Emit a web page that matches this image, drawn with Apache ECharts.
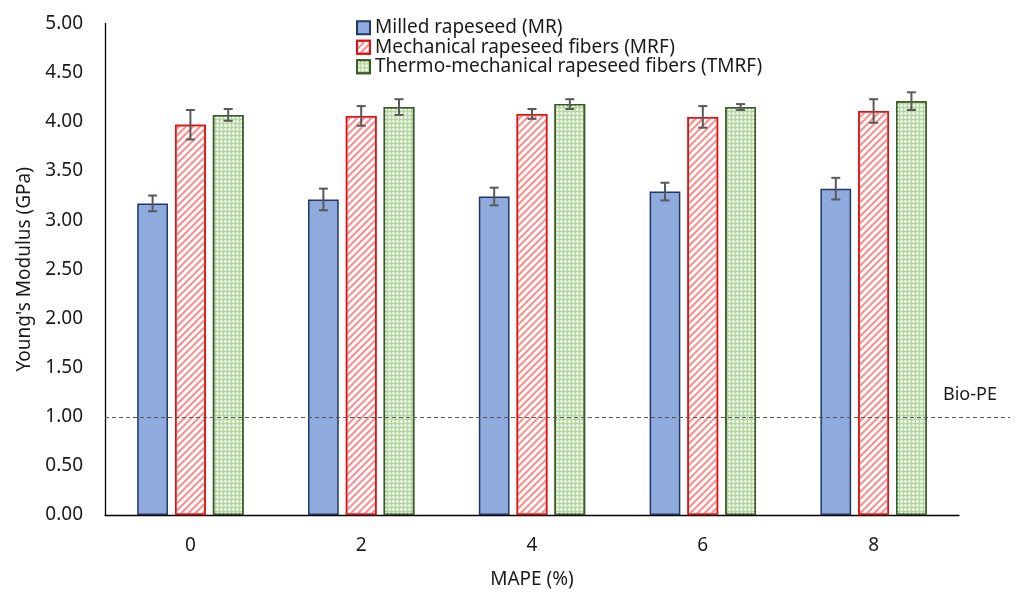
<!DOCTYPE html>
<html>
<head>
<meta charset="utf-8">
<script src="https://cdn.jsdelivr.net/npm/echarts@6/dist/echarts.min.js"></script>
<style>
  html, body { margin: 0; padding: 0; background: #fff; }
  #chart { width: 1016px; height: 594px; }
</style>
</head>
<body>
<div id="chart"></div>
<script>
var categories = ['0', '2', '4', '6', '8'];
var seriesNames = ['Milled rapeseed (MR)', 'Mechanical rapeseed fibers (MRF)', 'Thermo-mechanical rapeseed fibers (TMRF)'];
var mr = [3.17, 3.21, 3.24, 3.29, 3.32];
var mrErr = [0.08, 0.11, 0.09, 0.09, 0.11];
var mrf = [3.97, 4.06, 4.08, 4.05, 4.11];
var mrfErr = [0.15, 0.10, 0.05, 0.11, 0.12];
var tmrf = [4.07, 4.15, 4.18, 4.15, 4.21];
var tmrfErr = [0.06, 0.08, 0.05, 0.03, 0.09];
var bioPE = 1.0;
var yTicks = [0, 5, 0.5];

var font = '"Noto Sans", sans-serif';
var textColor = '#1a1a1a';
var barRatio = 0.18;
var gapRatio = 0.23;

// error bars sit over bar k of each group
function errorSeries(k, values, errs) {
  return {
    type: 'custom',
    z: 10,
    silent: true,
    data: values.map(function (v, i) { return [i, v, errs[i]]; }),
    renderItem: function (params, api) {
      var i = api.value(0), v = api.value(1), e = api.value(2);
      var band = api.size([1, 0])[0];
      var bw = band * barRatio;
      var off = (k - 1) * bw * (1 + gapRatio);
      var top = api.coord([i, v + e]);
      var bot = api.coord([i, v - e]);
      var x = top[0] + off;
      var cap = 4.5;
      var st = { stroke: '#595959', lineWidth: 2, fill: null };
      return {
        type: 'group',
        children: [
          { type: 'line', shape: { x1: x, y1: top[1], x2: x, y2: bot[1] }, style: st },
          { type: 'line', shape: { x1: x - cap, y1: top[1], x2: x + cap, y2: top[1] }, style: st },
          { type: 'line', shape: { x1: x - cap, y1: bot[1], x2: x + cap, y2: bot[1] }, style: st }
        ]
      };
    }
  };
}

var chart = echarts.init(document.getElementById('chart'));
chart.setOption({
  animation: false,
  textStyle: { fontFamily: font },
  legend: {
    data: seriesNames,
    orient: 'vertical',
    left: 351,
    top: 13,
    icon: 'rect',
    itemWidth: 13,
    itemHeight: 13,
    itemGap: 0,
    textStyle: { fontSize: 19, color: textColor, lineHeight: 19.5, fontFamily: font }
  },
  grid: [
    { left: 105, right: 57, top: 23.5, bottom: 78 },
    { left: 105, right: 6, top: 23.5, bottom: 78 }
  ],
  xAxis: [
    {
      type: 'category',
      gridIndex: 0,
      data: categories,
      name: 'MAPE (%)',
      nameLocation: 'middle',
      nameGap: 55,
      nameTextStyle: { fontSize: 19, color: textColor },
      axisLine: { lineStyle: { color: '#000', width: 1.3 } },
      axisTick: { show: false },
      axisLabel: { fontSize: 19, color: textColor, margin: 21 }
    },
    { type: 'value', gridIndex: 1, min: 0, max: 1, show: false }
  ],
  yAxis: [
    {
      type: 'value',
      gridIndex: 0,
      min: yTicks[0],
      max: yTicks[1],
      interval: yTicks[2],
      name: "Young's Modulus (GPa)",
      nameLocation: 'middle',
      nameGap: 68,
      nameTextStyle: { fontSize: 19, color: textColor },
      axisLine: { show: true, lineStyle: { color: '#000', width: 1.3 } },
      axisTick: { show: false },
      splitLine: { show: false },
      axisLabel: {
        fontSize: 19, color: textColor, margin: 22,
        formatter: function (v) { return v.toFixed(2); }
      }
    },
    { type: 'value', gridIndex: 1, min: yTicks[0], max: yTicks[1], show: false }
  ],
  series: [
    {
      name: seriesNames[0],
      type: 'bar',
      data: mr,
      barWidth: (barRatio * 100) + '%',
      barGap: (gapRatio * 100) + '%',
      itemStyle: { color: '#8faadc', borderColor: '#203864', borderWidth: 1.5 }
    },
    {
      name: seriesNames[1],
      type: 'bar',
      data: mrf,
      barWidth: (barRatio * 100) + '%',
      barGap: (gapRatio * 100) + '%',
      itemStyle: {
        color: '#ffffff', borderColor: '#e01010', borderWidth: 1.5,
        decal: {
          symbol: 'rect', color: '#ff8a8a',
          dashArrayX: [1, 0], dashArrayY: [2, 3],
          rotation: -Math.PI / 4
        }
      }
    },
    {
      name: seriesNames[2],
      type: 'bar',
      data: tmrf,
      barWidth: (barRatio * 100) + '%',
      barGap: (gapRatio * 100) + '%',
      itemStyle: {
        color: '#b5d7a0', borderColor: '#3a5a28', borderWidth: 1.5,
        decal: {
          symbol: 'circle', color: '#ffffff', symbolSize: 0.9,
          dashArrayX: [3, 1], dashArrayY: [3, 1]
        }
      }
    },
    errorSeries(0, mr, mrErr),
    errorSeries(1, mrf, mrfErr),
    errorSeries(2, tmrf, tmrfErr),
    {
      name: 'Bio-PE',
      type: 'line',
      xAxisIndex: 1,
      yAxisIndex: 1,
      data: [[0, bioPE], [1, bioPE]],
      symbol: 'none',
      silent: true,
      lineStyle: { color: '#595959', width: 1, type: [4, 3] },
      endLabel: {
        show: true,
        formatter: 'Bio-PE',
        fontSize: 18,
        color: textColor,
        offset: [-75, -23]
      }
    }
  ]
});
</script>
</body>
</html>
